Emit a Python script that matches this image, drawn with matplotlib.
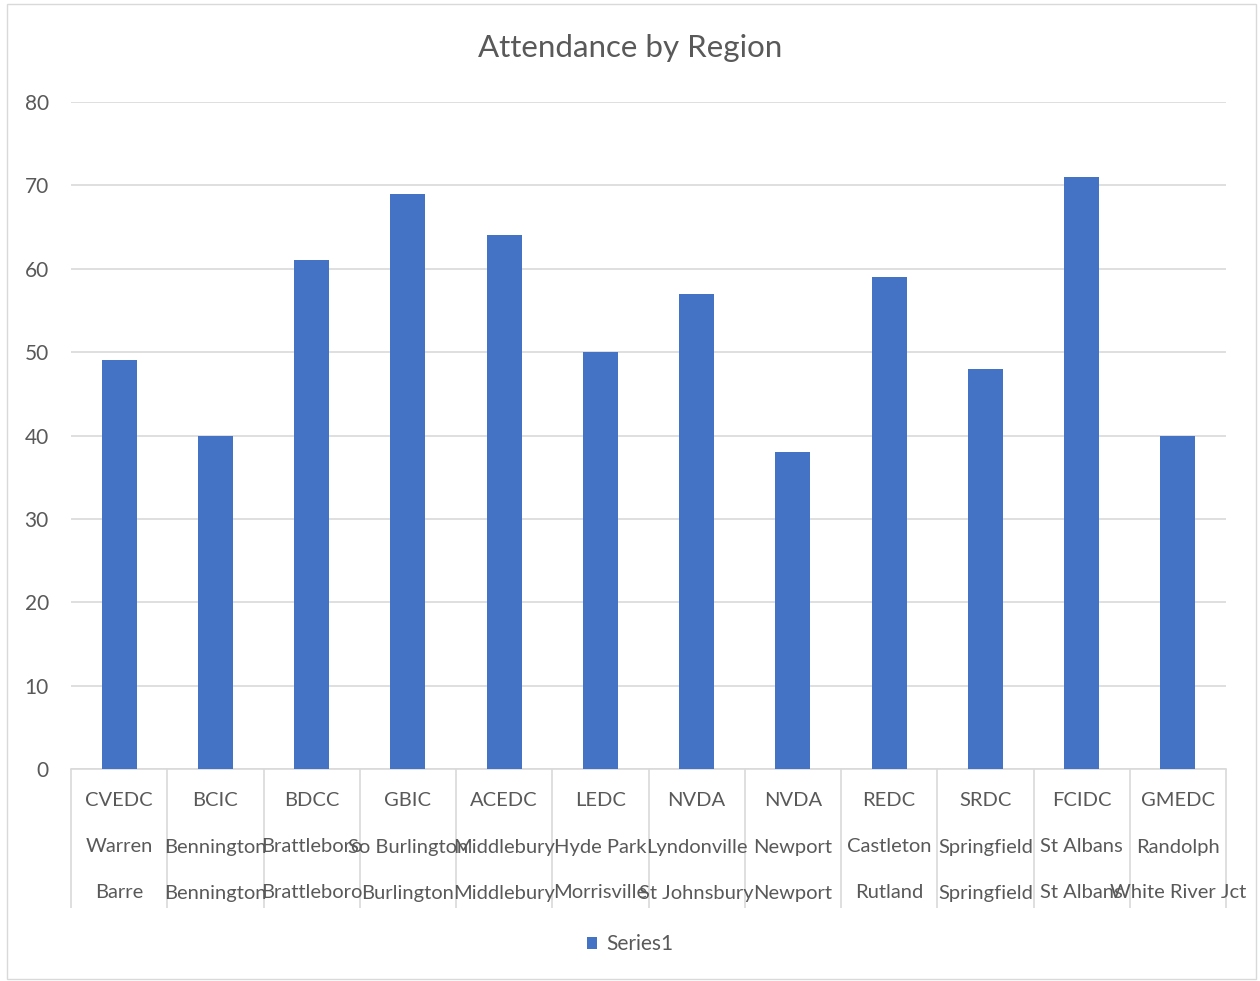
import matplotlib
matplotlib.use("Agg")
import matplotlib.pyplot as plt
import matplotlib.transforms as mtransforms
from matplotlib.patches import Rectangle
import numpy as np

plt.rcParams['font.family'] = ['Lato', 'DejaVu Sans']

orgs = ["CVEDC", "BCIC", "BDCC", "GBIC", "ACEDC", "LEDC", "NVDA", "NVDA",
        "REDC", "SRDC", "FCIDC", "GMEDC"]
sites = ["Warren", "Bennington", "Brattleboro", "So Burlington", "Middlebury",
         "Hyde Park", "Lyndonville", "Newport", "Castleton", "Springfield",
         "St Albans", "Randolph"]
towns = ["Barre", "Bennington", "Brattleboro", "Burlington", "Middlebury",
         "Morrisville", "St Johnsbury", "Newport", "Rutland", "Springfield",
         "St Albans", "White River Jct"]
attendance = [49, 40, 61, 69, 64, 50, 57, 38, 59, 48, 71, 40]
yticks = [0, 10, 20, 30, 40, 50, 60, 70, 80]

W, H = 1260, 981
fig = plt.figure(figsize=(W / 100, H / 100), dpi=100)
fig.patch.set_facecolor("white")
# outer chart border
fig.patches.append(Rectangle((7 / W, 2 / H), (1256 - 7) / W, (979 - 4) / H,
                             transform=fig.transFigure, fill=False,
                             edgecolor="#d9d9d9", linewidth=1.0))

ax = fig.add_axes([71 / W, 212 / H, (1226 - 71) / W, (879 - 212) / H])
txt = "#595959"
grid = "#d9d9d9"

x = np.arange(len(attendance))
ax.bar(x, attendance, width=0.365, color="#4472C4", zorder=3, label="Series1")
ax.set_xlim(-0.5, len(attendance) - 0.5)
ax.set_ylim(0, 80)
ax.set_yticks(yticks)
ax.set_yticklabels([str(v) for v in yticks], fontsize=15, color=txt)
ax.tick_params(axis="y", length=0, pad=16)
ax.yaxis.grid(True, color=grid, linewidth=1.2, zorder=0)
for s in ["top", "right", "left"]:
    ax.spines[s].set_visible(False)
ax.spines["bottom"].set_color(grid)
ax.spines["bottom"].set_linewidth(1.2)

# category separators as long minor ticks
ax.set_xticks([])
ax.set_xticks(np.arange(-0.5, len(attendance), 1.0), minor=True)
ax.tick_params(axis="x", which="minor", length=100, width=1.2, color=grid,
               labelbottom=False)

trans = mtransforms.blended_transform_factory(ax.transData, fig.transFigure)
rows = [(orgs, 1 - 800 / H), (sites, 1 - 847 / H), (towns, 1 - 893 / H)]
for labels, yy in rows:
    for xi, lab in zip(x, labels):
        ax.text(xi, yy, lab, transform=trans, ha="center", va="center",
                fontsize=14.5, color=txt, clip_on=False)

fig.text(0.5, 1 - 48 / H, "Attendance by Region", ha="center", va="center",
         fontsize=22.5, color=txt)

leg = fig.legend(loc="center", bbox_to_anchor=(0.5, 1 - 944 / H), frameon=False,
                 fontsize=15, handlelength=0.5, handleheight=0.5,
                 handletextpad=0.4, labelcolor=txt)

fig.savefig("out.png", dpi=100, facecolor="white")
